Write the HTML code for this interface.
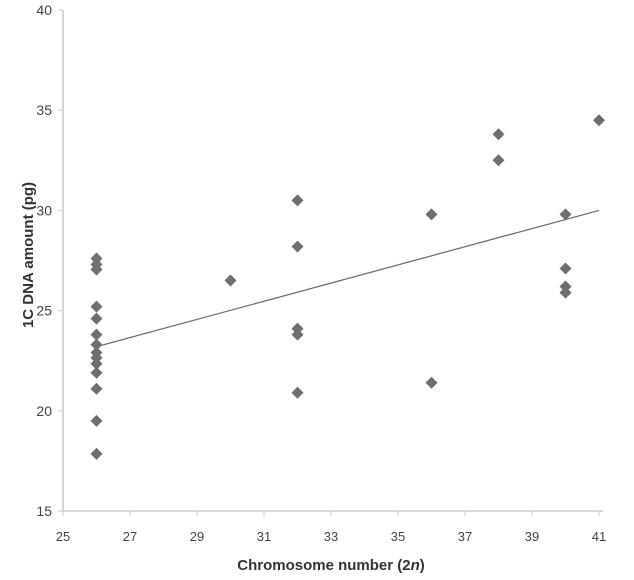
<!DOCTYPE html>
<html><head><meta charset="utf-8"><style>
html,body{margin:0;padding:0;background:#fff;}
svg{display:block;font-family:"Liberation Sans",sans-serif;}
</style></head><body>
<svg id="chart" width="634" height="580"></svg>
<script>
const xTicks=[25,27,29,31,33,35,37,39,41];
const yTicks=[15,20,25,30,35,40];
const xs=[26,26,26,26,26,26,26,26,26,26,26,26,26,26,30,32,32,32,32,32,36,36,38,38,40,40,40,40,41];
const ys=[27.6,27.3,27.05,25.2,24.6,23.8,23.3,22.9,22.65,22.35,21.9,21.1,19.5,17.85,26.5,30.5,28.2,24.1,23.8,20.9,29.8,21.4,33.8,32.5,29.8,27.1,26.2,25.9,34.5];
const trendX=[26,41];
const trendY=[23.2,30.0];
const NS="http://www.w3.org/2000/svg";
const svg=document.getElementById('chart');
const X0=63,X1=599,Y0=511,Y1=10;
function sx(v){return X0+(v-25)/(41-25)*(X1-X0);}
function sy(v){return Y0-(v-15)/(40-15)*(Y0-Y1);}
function mk(t,a,txt){const e=document.createElementNS(NS,t);for(const k in a)e.setAttribute(k,a[k]);if(txt!==undefined)e.textContent=txt;svg.appendChild(e);return e;}
let e;
e=mk('line',{x1:X0,y1:Y1,x2:X0,y2:Y0,stroke:'#c8c8c8','stroke-width':1.5});


e=mk('line',{x1:X0,y1:Y0,x2:X1+4,y2:Y0,stroke:'#c8c8c8','stroke-width':1.5});


yTicks.forEach(t=>{
 mk('line',{x1:X0-5,y1:sy(t),x2:X0,y2:sy(t),stroke:'#c8c8c8'});
 e=mk('text',{x:X0-11,y:sy(t)+5,'text-anchor':'end','font-size':14,fill:'#444'},t);
 
 
});
xTicks.forEach(t=>{
 mk('line',{x1:sx(t),y1:Y0,x2:sx(t),y2:Y0+5,stroke:'#c8c8c8'});
 e=mk('text',{x:sx(t),y:Y0+30,'text-anchor':'middle','font-size':13,fill:'#444'},t);
 
 
});
e=mk('line',{x1:sx(trendX[0]),y1:sy(trendY[0]),x2:sx(trendX[1]),y2:sy(trendY[1]),stroke:'#666','stroke-width':1.2});


xs.forEach((v,i)=>{
 const cx=sx(v),cy=sy(ys[i]),r=6;
 e=mk('polygon',{points:`${cx},${cy-r} ${cx+r},${cy} ${cx},${cy+r} ${cx-r},${cy}`,fill:'#6e6e6e'});
 
 
});
e=mk('text',{x:sx(33),y:570,'text-anchor':'middle','font-size':15,'font-weight':'bold',fill:'#333'});
e.innerHTML='Chromosome number (2<tspan font-style="italic">n</tspan>)';


e=mk('text',{x:0,y:0,'text-anchor':'middle','font-size':15,'font-weight':'bold',fill:'#333',transform:'translate(33,255) rotate(-90)'},'1C  DNA amount (pg)');


</script>
</body></html>
